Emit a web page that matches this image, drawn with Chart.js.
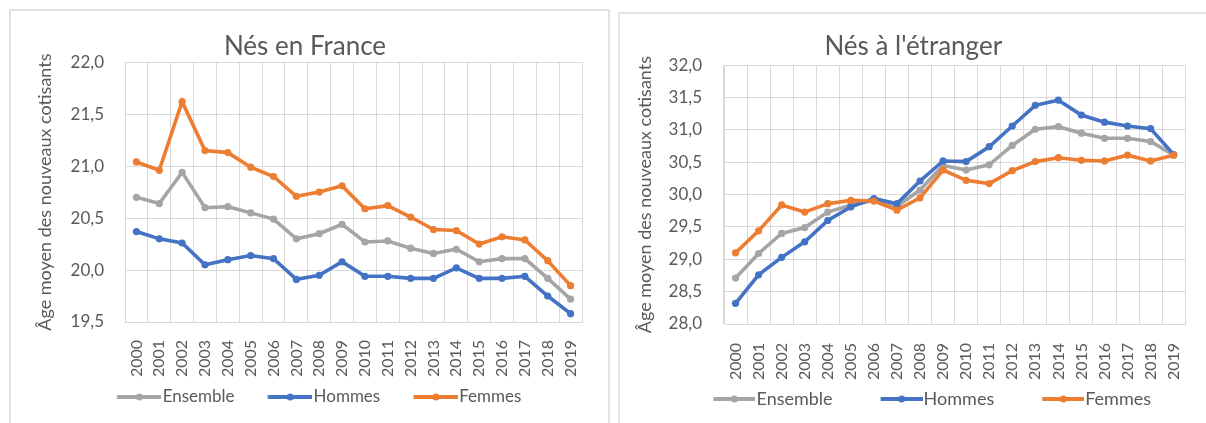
<!DOCTYPE html>
<html><head><meta charset="utf-8">
<script src="https://cdn.jsdelivr.net/npm/chart.js@4.4.0/dist/chart.umd.min.js"></script>
<style>
html,body{margin:0;padding:0;background:#fff;overflow:hidden;width:1206px;height:423px;}
.box{position:absolute;border:2px solid #e2e2e2;box-sizing:border-box;}
canvas{position:absolute;}
</style></head><body>
<div class="box" style="left:9px;top:9px;width:601px;height:430px"></div>
<div class="box" style="left:618px;top:12px;width:600px;height:430px"></div>
<canvas id="c1" width="597" height="412" style="left:11px;top:11px"></canvas>
<canvas id="c2" width="592" height="412" style="left:620px;top:11px"></canvas>
<script>
const years = ['2000','2001','2002','2003','2004','2005','2006','2007','2008','2009','2010','2011','2012','2013','2014','2015','2016','2017','2018','2019'];
const seriesNames = ['Ensemble','Hommes','Femmes'];
const seriesColors = ['#A5A5A5','#4472C4','#ED7D31'];
const yAxisTitle = 'Âge moyen des nouveaux cotisants';

const franceTitle = 'Nés en France';
const franceEnsemble = [20.70,20.64,20.94,20.60,20.61,20.55,20.49,20.30,20.35,20.44,20.27,20.28,20.21,20.16,20.20,20.08,20.11,20.11,19.92,19.72];
const franceHommes   = [20.37,20.30,20.26,20.05,20.10,20.14,20.11,19.91,19.95,20.08,19.94,19.94,19.92,19.92,20.02,19.92,19.92,19.94,19.75,19.58];
const franceFemmes   = [21.04,20.96,21.62,21.15,21.13,20.99,20.90,20.71,20.75,20.81,20.59,20.62,20.51,20.39,20.38,20.25,20.32,20.29,20.09,19.85];
const franceTicks = [19.5,20.0,20.5,21.0,21.5,22.0];

const etrangerTitle = "Nés à l'étranger";
const etrangerEnsemble = [28.71,29.09,29.40,29.49,29.73,29.84,29.91,29.82,30.07,30.45,30.38,30.46,30.76,31.01,31.05,30.95,30.87,30.87,30.82,30.61];
const etrangerHommes   = [28.32,28.76,29.03,29.27,29.60,29.81,29.94,29.86,30.21,30.52,30.51,30.74,31.06,31.38,31.46,31.23,31.12,31.06,31.02,30.62];
const etrangerFemmes   = [29.10,29.44,29.84,29.73,29.86,29.91,29.90,29.76,29.95,30.38,30.22,30.17,30.37,30.51,30.57,30.53,30.52,30.61,30.52,30.61];
const etrangerTicks = [28.0,28.5,29.0,29.5,30.0,30.5,31.0,31.5,32.0];

const TXT = '#595959';
const GRID = '#D9D9D9';

// legend symbol: canvas of width cw, with the line (length len) drawn in its right part
function legendIcon(color, cw, len) {
  const c = document.createElement('canvas');
  c.width = cw; c.height = 10;
  const g = c.getContext('2d');
  const x0 = cw - len;
  g.strokeStyle = color; g.lineWidth = 4; g.lineCap = 'butt';
  g.beginPath(); g.moveTo(x0, 5); g.lineTo(cw, 5); g.stroke();
  g.fillStyle = color; g.beginPath(); g.arc(x0 + len / 2, 5, 3.5, 0, Math.PI * 2); g.fill();
  return c;
}

const shiftLegend = {
  id: 'shiftLegend',
  afterLayout(chart, args, opts) {
    const l = chart.legend;
    if (l && opts && opts.dx) { l.left += opts.dx; l.right += opts.dx; }
  }
};

function makeChart(id, title, series, ticks, g) {
  const datasets = series.map((vals, i) => ({
    label: seriesNames[i],
    data: vals,
    borderColor: seriesColors[i],
    backgroundColor: seriesColors[i],
    pointBackgroundColor: seriesColors[i],
    pointBorderWidth: 0,
    pointRadius: 3.6,
    borderWidth: 3.6,
    tension: 0,
    order: 2 - i
  }));
  const iconW = g.legendBox + g.legendFont - 2;
  return new Chart(document.getElementById(id), {
    type: 'line',
    data: { labels: years, datasets },
    plugins: [shiftLegend],
    options: {
      responsive: false,
      animation: false,
      devicePixelRatio: 1,
      layout: { padding: { left: 0, right: g.padRight, top: 0, bottom: g.padBottom } },
      plugins: {
        shiftLegend: { dx: g.legendDx },
        tooltip: { enabled: false },
        title: {
          display: true, text: title, color: TXT,
          font: { family: 'Lato', size: 26, weight: 'normal' },
          padding: { top: 20, bottom: g.titleBottom }
        },
        legend: {
          position: 'bottom',
          labels: {
            color: TXT,
            font: { family: 'Lato', size: g.legendFont },
            usePointStyle: true,
            pointStyleWidth: g.legendBox,
            padding: g.legendPad,
            generateLabels: (chart) => chart.data.datasets.map((ds, i) => ({
              text: ds.label,
              pointStyle: legendIcon(ds.borderColor, iconW, g.legendLine),
              fillStyle: ds.borderColor, strokeStyle: ds.borderColor,
              lineWidth: 0, hidden: false, datasetIndex: i, fontColor: TXT
            }))
          }
        }
      },
      scales: {
        x: {
          type: 'category',
          offset: true,
          grid: { offset: true, color: GRID, lineWidth: 1, drawTicks: false },
          border: { color: GRID, width: 1 },
          ticks: {
            color: TXT, font: { family: 'Lato', size: 16 },
            minRotation: 90, maxRotation: 90, padding: g.xTickPad, autoSkip: false
          },
          afterFit: (s) => { s.height = g.xHeight; }
        },
        y: {
          min: ticks[0], max: ticks[ticks.length - 1],
          afterBuildTicks: (s) => { s.ticks = ticks.map(v => ({ value: v })); },
          grid: { color: GRID, lineWidth: 1, drawTicks: false },
          border: { color: GRID, width: 1 },
          ticks: {
            color: TXT, font: { family: 'Lato', size: 17 }, padding: g.yTickPad,
            callback: (v) => Number(v).toFixed(1).replace('.', ',')
          },
          title: {
            display: true, text: yAxisTitle, color: TXT,
            font: { family: 'Lato', size: 18 },
            padding: { top: g.yTitlePad, bottom: 0 }
          },
          afterFit: (s) => { s.width = g.yWidth; }
        }
      }
    }
  });
}

function draw() {
  makeChart('c1', franceTitle, [franceEnsemble, franceHommes, franceFemmes], franceTicks, {
    padRight: 9, padBottom: 7.5, titleBottom: 0, legendDx: -0.5,
    legendFont: 17, legendBox: 66.5, legendLine: 45, legendPad: 4,
    xTickPad: 18, xHeight: 62.5, yTickPad: 21, yTitlePad: 23.2, yWidth: 114
  });
  makeChart('c2', etrangerTitle, [etrangerEnsemble, etrangerHommes, etrangerFemmes], etrangerTicks, {
    padRight: 5.5, padBottom: 5, titleBottom: 3, legendDx: -3,
    legendFont: 18, legendBox: 78, legendLine: 42, legendPad: 4,
    xTickPad: 19, xHeight: 62, yTickPad: 22, yTitlePad: 14.2, yWidth: 104
  });
}
if (document.fonts && document.fonts.load) {
  Promise.all([document.fonts.load('17px Lato'), document.fonts.load('26px Lato')]).then(draw, draw);
} else { draw(); }
</script>
</body></html>
